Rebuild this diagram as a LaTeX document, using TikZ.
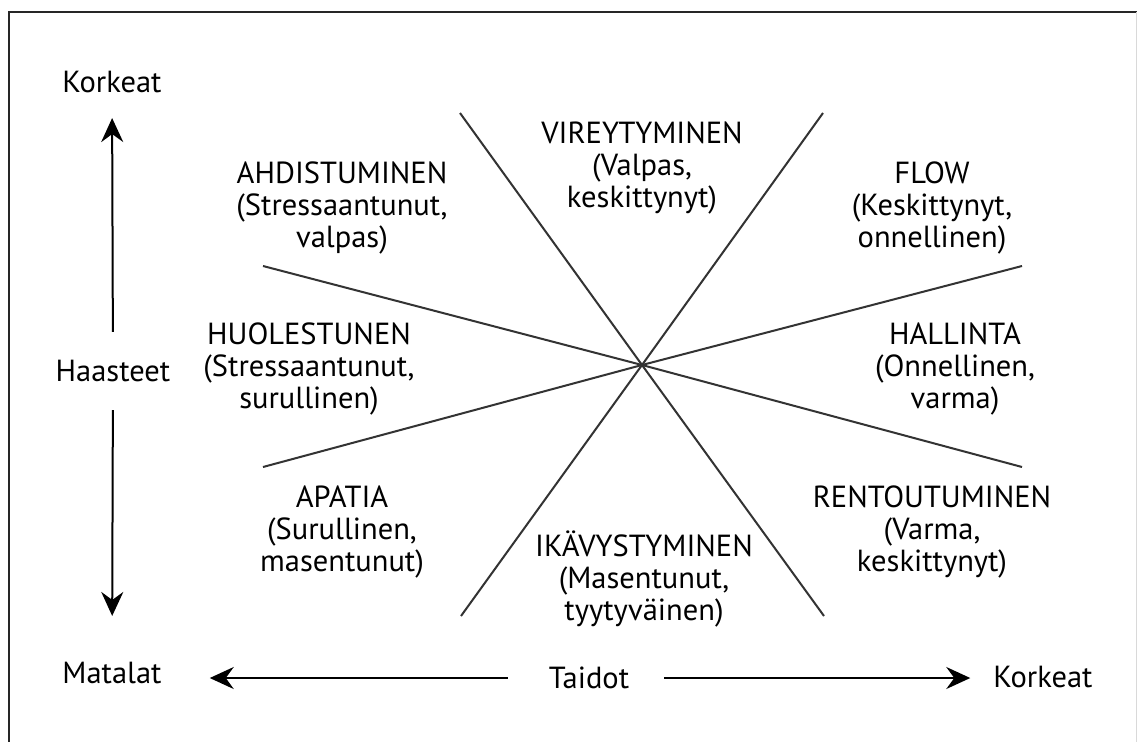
\documentclass[tikz,border=0pt]{standalone}
\usepackage{fontspec}
\setmainfont{PT Sans}
\usetikzlibrary{arrows.meta,calc}
\begin{document}
\begin{tikzpicture}[x=1pt,y=-1pt,
  lbl/.style={align=center,inner sep=0pt,font=\fontsize{30.5}{32}\selectfont,text=black},
  axis/.style={inner sep=0pt,font=\fontsize{30.5}{32}\selectfont,text=black},
  sector/.style={line width=2pt,draw=black!80},
  arr/.style={line width=2pt,-{Stealth[length=24pt,width=22pt,inset=8pt]}}]
\useasboundingbox (0,0) rectangle (1137,742);
\fill[white] (0,0) rectangle (1137,742);
% frame
\draw[line width=2.6pt,black!85] (1137,12) -- (9,12) -- (9,742);
\draw[line width=1pt,black!15] (1136,12) -- (1136,742);
% centre and sector lines
\coordinate (c) at (642,365);
\coordinate (s1a) at (460,113); \coordinate (s1b) at (824,616);
\coordinate (s2a) at (823,113); \coordinate (s2b) at (461,616);
\coordinate (s3a) at (263,266); \coordinate (s3b) at (1022,467);
\coordinate (s4a) at (263,467); \coordinate (s4b) at (1022,266);
\draw[sector] (s1a) -- (c) -- (s1b);
\draw[sector] (s2a) -- (c) -- (s2b);
\draw[sector] (s3a) -- (c) -- (s3b);
\draw[sector] (s4a) -- (c) -- (s4b);
% axis labels
\node[axis] (korkY) at (112,82) {Korkeat};
\node[axis] (haast) at (113,371) {Haasteet};
\node[axis] (matal) at (112,673) {Matalat};
\node[axis] (taidot) at (589,678) {Taidot};
\node[axis] (korkX) at (1043,677) {Korkeat};
% axis arrows
\draw[arr,shorten <=28pt,shorten >=25pt] (haast) -- (korkY);
\draw[arr,shorten <=28pt,shorten >=46pt] (haast) -- (matal);
\draw[arr,shorten <=41pt,shorten >=48pt] (taidot.west) -- (taidot.west -| matal.east);
\draw[arr,shorten <=35pt,shorten >=23pt] (taidot.east) -- (taidot.east -| korkX.west);
% sector labels
\node[lbl] (vir) at (642,168) {VIREYTYMINEN\\(Valpas,\\keskittynyt)};
\node[lbl] (ahd) at (342,208) {AHDISTUMINEN\\(Stressaantunut,\\valpas)};
\node[lbl] (flow) at (932,208) {FLOW\\(Keskittynyt,\\onnellinen)};
\node[lbl] (huo) at (309,369) {HUOLESTUNEN\\(Stressaantunut,\\surullinen)};
\node[lbl] (hal) at (955,369) {HALLINTA\\(Onnellinen,\\varma)};
\node[lbl] (apa) at (342,532) {APATIA\\(Surullinen,\\masentunut)};
\node[lbl] (ika) at (644,579) {IKÄVYSTYMINEN\\(Masentunut,\\tyytyväinen)};
\node[lbl] (ren) at (932,532) {RENTOUTUMINEN\\(Varma,\\keskittynyt)};
\end{tikzpicture}
\end{document}
